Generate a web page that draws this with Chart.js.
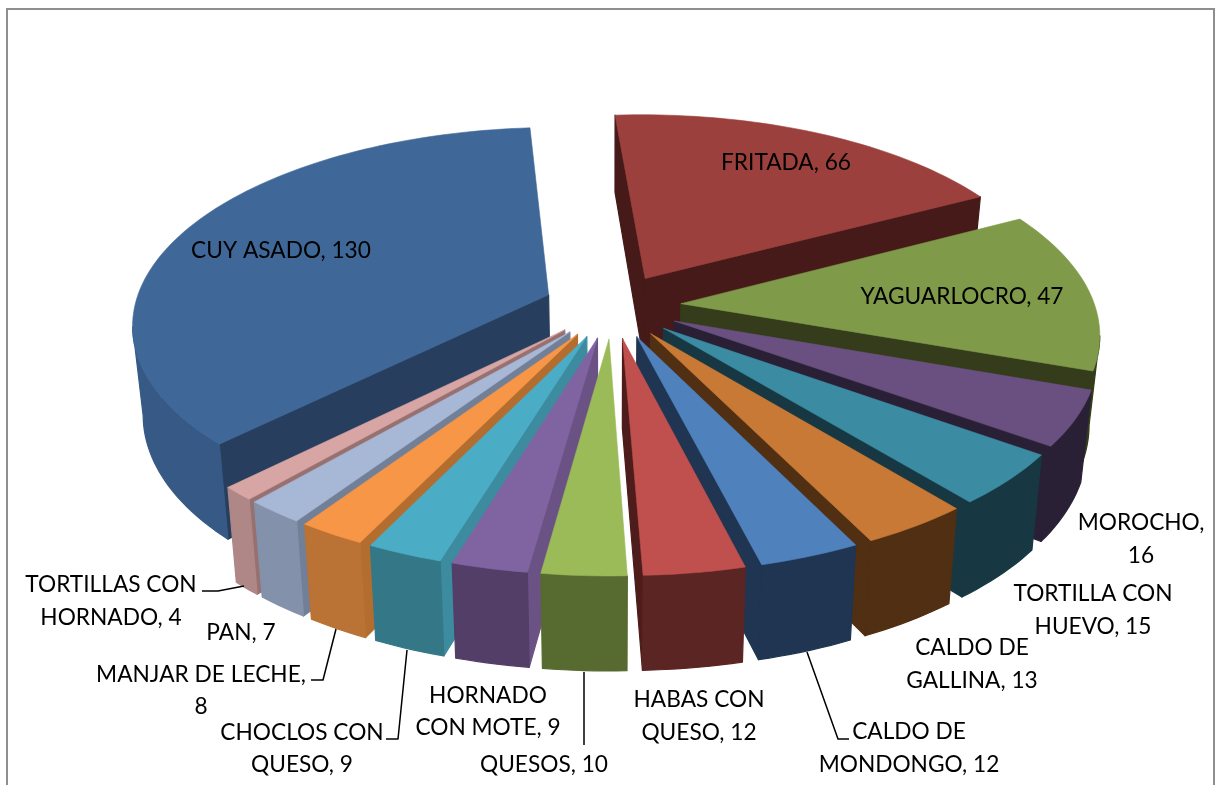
<!DOCTYPE html>
<html lang="es">
<head>
<meta charset="UTF-8" />
<title>Platos típicos</title>
<script src="https://cdn.jsdelivr.net/npm/chart.js"></script>
<style>
  html, body { margin: 0; height: 100%; background: #fff; overflow: hidden; }
  #marco { position: absolute; left: 6px; top: 8px; width: 1209px; height: 800px; border: 2px solid #8f8f8f; box-sizing: border-box; }
  canvas { position: absolute; left: 0; top: 0; }
</style>
</head>
<body>
<div id="marco"></div>
<canvas id="torta" width="1218" height="785"></canvas>
<script>
const categorias = ['FRITADA', 'YAGUARLOCRO', 'MOROCHO', 'TORTILLA CON HUEVO', 'CALDO DE GALLINA', 'CALDO DE MONDONGO', 'HABAS CON QUESO', 'QUESOS', 'HORNADO CON MOTE', 'CHOCLOS CON QUESO', 'MANJAR DE LECHE', 'PAN', 'TORTILLAS CON HORNADO', 'CUY ASADO'];
const valores = [66, 47, 16, 15, 13, 12, 12, 10, 9, 9, 8, 7, 4, 130];

const colorTapa = ['#9b403d', '#7f9a48', '#6a5080', '#3b8ca3', '#c87935', '#4f81bd', '#c0504d', '#9bbb59', '#8064a2', '#4bacc6', '#f79646', '#a7b7d6', '#d6a5a4', '#3f6899'];
const colorBorde = ['#4c1b1a', '#343c1b', '#2a2036', '#173842', '#502f13', '#1f3552', '#5b2523', '#576a30', '#533e68', '#347888', '#ba7235', '#8391aa', '#ae8786', '#365a85'];
const colorCorte = ['#451a18', '#343c1b', '#2a2036', '#173842', '#502f13', '#1f3552', '#4e1c1b', '#576a30', '#6a5285', '#3d8b9f', '#b36d2f', '#717f97', '#977170', '#283e5e'];

// lineas de cada etiqueta: [texto, centro x, centro y]
const etiquetas = [
  ['CUY ASADO, 130', 281, 251], ['FRITADA, 66', 786, 163], ['YAGUARLOCRO, 47', 962, 297],
  ['MOROCHO,', 1141, 523], ['16', 1141, 556],
  ['TORTILLA CON', 1093, 594], ['HUEVO, 15', 1093, 627],
  ['CALDO DE', 972, 648], ['GALLINA, 13', 972, 681],
  ['CALDO DE', 909, 732], ['MONDONGO, 12', 909, 765],
  ['HABAS CON', 699, 700], ['QUESO, 12', 699, 733],
  ['QUESOS, 10', 544, 765],
  ['HORNADO', 488, 696], ['CON MOTE, 9', 488, 728],
  ['CHOCLOS CON', 302, 733], ['QUESO, 9', 302, 765],
  ['MANJAR DE LECHE,', 201, 675], ['8', 201, 707],
  ['PAN, 7', 241, 633],
  ['TORTILLAS CON', 111, 585], ['HORNADO, 4', 111, 618]
];
const guias = [
  [[202, 591], [218, 591], [244, 586]],
  [[311, 680], [323, 680], [336, 629]],
  [[386, 739], [398, 739], [407, 650]],
  [[584, 672], [584, 745]],
  [[807, 652], [838, 739], [849, 739]]
];

// vista en perspectiva de la torta
const cx = 612.5, cy = 306, escala = 414, aplaste = 0.468, fuga = 0.14;
const separacion = 0.166, cierre = 0.978;

function proyectar(u, v) {
  const w = 1 - fuga * v;
  return [cx + escala * u / w, cy + escala * aplaste * v / w];
}
function abajo(p) {
  const alto = Math.min(95, 77 + (p[1] - 115) * 0.055);
  return [cx + (p[0] - cx) * cierre, p[1] + alto];
}
function contorno(arc) {
  const medio = (arc.startAngle + arc.endAngle) / 2;
  const du = separacion * Math.cos(medio), dv = separacion * Math.sin(medio);
  const pts = [proyectar(du, dv)];
  const pasos = Math.ceil((arc.endAngle - arc.startAngle) * 40);
  for (let i = 0; i <= pasos; i++) {
    const a = arc.startAngle + (arc.endAngle - arc.startAngle) * i / pasos;
    pts.push(proyectar(du + Math.cos(a), dv + Math.sin(a)));
  }
  return pts;
}
function poligono(ctx, pts, color, grueso) {
  ctx.beginPath();
  pts.forEach((p, i) => i ? ctx.lineTo(p[0], p[1]) : ctx.moveTo(p[0], p[1]));
  ctx.closePath();
  ctx.fillStyle = color;
  ctx.strokeStyle = color;
  ctx.lineWidth = grueso;
  ctx.lineJoin = 'round';
  ctx.fill();
  ctx.stroke();
}

const torta3d = {
  id: 'torta3d',
  beforeDatasetDraw(chart) {
    const ctx = chart.ctx;
    const arcos = chart.getDatasetMeta(0).data.map((arc, i) => ({ arc, i }));
    // de atras hacia adelante
    arcos.sort((a, b) => Math.sin((a.arc.startAngle + a.arc.endAngle) / 2) - Math.sin((b.arc.startAngle + b.arc.endAngle) / 2));
    arcos.forEach(({ arc, i }) => {
      const pts = contorno(arc);
      const n = pts.length;
      // cortes radiales, solo la cara que se ve
      [[pts[0], pts[1]], [pts[n - 1], pts[0]]].forEach(([p, q]) => {
        if (q[0] < p[0]) poligono(ctx, [p, q, abajo(q), abajo(p)], colorCorte[i], 1.2);
      });
      // borde curvo en una sola pieza
      const curva = pts.slice(1).filter((p, k, l) => (l[k + 1] && l[k + 1][0] < p[0]) || (l[k - 1] && p[0] < l[k - 1][0]));
      if (curva.length > 1) poligono(ctx, curva.concat(curva.map(abajo).reverse()), colorBorde[i], 1.2);
      poligono(ctx, pts, colorTapa[i], 0.6);
    });
    return false;
  },
  afterDraw(chart) {
    const ctx = chart.ctx;
    ctx.save();
    ctx.strokeStyle = '#000';
    ctx.lineWidth = 1.5;
    guias.forEach(g => {
      ctx.beginPath();
      g.forEach((p, i) => i ? ctx.lineTo(p[0], p[1]) : ctx.moveTo(p[0], p[1]));
      ctx.stroke();
    });
    ctx.fillStyle = '#000';
    ctx.font = '22.7px Lato';
    ctx.textAlign = 'center';
    ctx.textBaseline = 'middle';
    etiquetas.forEach(e => ctx.fillText(e[0], e[1], e[2]));
    ctx.restore();
  }
};

new Chart(document.getElementById('torta'), {
  type: 'pie',
  data: {
    labels: categorias,
    datasets: [{ data: valores, backgroundColor: colorTapa, borderWidth: 0 }]
  },
  options: {
    responsive: false,
    animation: false,
    rotation: -4.2,
    plugins: { legend: { display: false }, tooltip: { enabled: false } }
  },
  plugins: [torta3d]
});
</script>
</body>
</html>
